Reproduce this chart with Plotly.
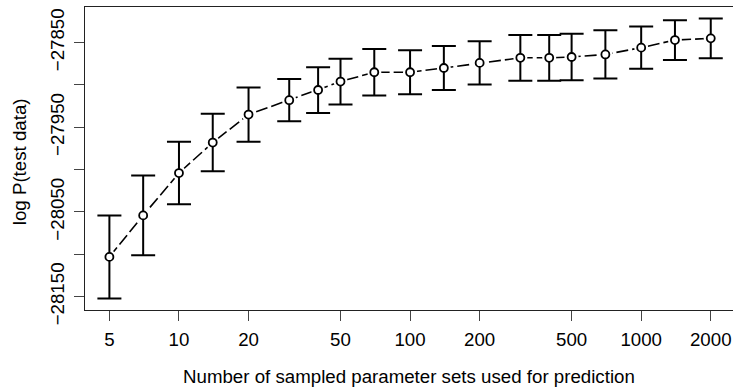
import numpy as np
import plotly.graph_objects as go

n_sets = [5, 7, 10, 14, 20, 30, 40, 50, 70, 100, 140, 200, 300, 400, 500, 700, 1000, 1400, 2000]
log_p = [-28103, -28054, -28004, -27968, -27935, -27918, -27906, -27896, -27885, -27885,
         -27880, -27874, -27868, -27868, -27867, -27864, -27856, -27847, -27845]
err = [49, 47, 37, 34, 32, 25, 27, 27, 27.5, 26, 26, 25.5, 27, 27, 27.5, 28.5, 25, 23.5, 23.5]

x_ticks = [5, 10, 20, 50, 100, 200, 500, 1000, 2000]
y_ticks = [-28150, -28100, -28050, -28000, -27950, -27900, -27850]
y_labels = ["\u221228150", "", "\u221228050", "", "\u221227950", "", "\u221227850"]

FONT = "Liberation Sans, Arial, sans-serif"
FS = 18.7

fig = go.Figure()
fig.add_trace(go.Scatter(x=n_sets, y=log_p, mode="lines",
                         line=dict(color="black", width=1.6, dash="12px,4px"),
                         hoverinfo="skip", showlegend=False))
fig.add_trace(go.Scatter(x=n_sets, y=log_p, mode="markers",
                         marker=dict(symbol="circle", size=14, color="white", line=dict(width=0)),
                         hoverinfo="skip", showlegend=False))
fig.add_trace(go.Scatter(x=n_sets, y=log_p, mode="markers",
                         marker=dict(symbol="circle", size=8, color="white",
                                     line=dict(color="black", width=1.8)),
                         error_y=dict(type="data", array=err, visible=True,
                                      color="black", thickness=2, width=12),
                         showlegend=False))

fig.update_layout(
    width=733, height=388,
    margin=dict(l=85.3, r=0, t=6.7, b=78),
    paper_bgcolor="white", plot_bgcolor="white",
    font=dict(family=FONT, size=FS, color="black"),
    xaxis=dict(type="log", range=[0.5934, 3.3973],
               tickvals=x_ticks, ticktext=[str(v) for v in x_ticks],
               showgrid=False, zeroline=False,
               showline=True, mirror=True, linecolor="#222", linewidth=1,
               ticks="outside", ticklen=10, tickcolor="#444", tickwidth=1,
               ticklabelstandoff=3),
    yaxis=dict(range=[-28165.7, -27808.0],
               tickvals=y_ticks, ticktext=y_labels, tickangle=-90,
               showgrid=False, zeroline=False,
               showline=True, mirror=False, linecolor="#222", linewidth=1,
               ticks="outside", ticklen=10, tickcolor="#444", tickwidth=1,
               ticklabelstandoff=3),
    annotations=[
        dict(text="Number of sampled parameter sets used for prediction",
             xref="paper", yref="paper", x=0.5, y=-0.22, xanchor="center", yanchor="middle",
             showarrow=False, font=dict(family=FONT, size=FS)),
        dict(text="log P(test data)", textangle=-90,
             xref="paper", yref="paper", x=-0.1008, y=0.49, xanchor="center", yanchor="middle",
             showarrow=False, font=dict(family=FONT, size=FS)),
    ],
)

fig.write_html("out.html")
